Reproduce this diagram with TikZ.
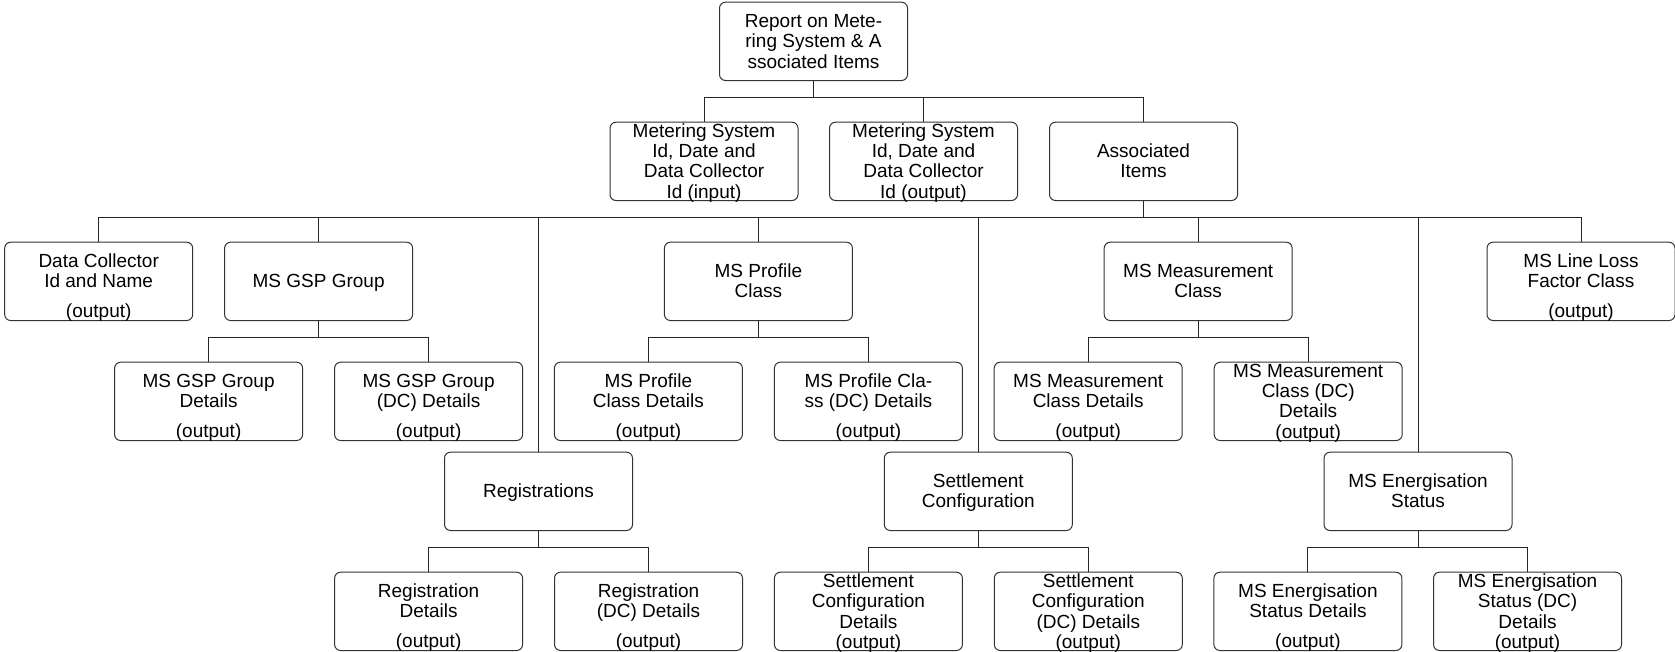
\documentclass[tikz,border=0pt]{standalone}
\usepackage{fontspec}
\setmainfont{Liberation Sans}
\newcommand\tl[1]{\raisebox{-6.75pt}[0pt][0pt]{\begin{tabular}{@{}c@{}}#1\end{tabular}}}
\newcommand\tlo[2]{\raisebox{-11.6pt}[0pt][0pt]{\begin{tabular}{@{}c@{}}#1\\[9.6pt]#2\end{tabular}}}
\tikzset{
  box/.style={draw=black!80, line width=1pt, rounded corners=6pt,
    minimum width=188pt, minimum height=78.3pt, inner sep=0pt,
    font=\fontsize{19pt}{20.3pt}\selectfont, anchor=north},
  link/.style={draw=black!85, line width=1pt},
}
\begin{document}
\begin{tikzpicture}[x=1pt,y=-1pt]
\useasboundingbox (0,0) rectangle (1675,651);
% level 0
\node[box] (top) at (813.5,1.7) {\tl{Report on Mete-\\ring System \& A\\ssociated Items}};
% level 1
\node[box] (in) at (704,121.7) {\tl{Metering System\\Id, Date and\\Data Collector\\Id (input)}};
\node[box] (out) at (923.5,121.7) {\tl{Metering System\\Id, Date and\\Data Collector\\Id (output)}};
\node[box] (assoc) at (1143.5,121.7) {\tl{Associated\\Items}};
% level 2
\node[box] (dc) at (98.7,241.7) {\tlo{Data Collector\\Id and Name}{(output)}};
\node[box] (gsp) at (318.6,241.7) {\tl{MS GSP Group}};
\node[box] (prof) at (758.4,241.7) {\tl{MS Profile\\Class}};
\node[box] (meas) at (1198.2,241.7) {\tl{MS Measurement\\Class}};
\node[box] (lll) at (1581,241.7) {\tlo{MS Line Loss\\Factor Class}{(output)}};
% level 3
\node[box] (gspd) at (208.6,361.7) {\tlo{MS GSP Group\\Details}{(output)}};
\node[box] (gspdc) at (428.6,361.7) {\tlo{MS GSP Group\\(DC) Details}{(output)}};
\node[box] (profd) at (648.4,361.7) {\tlo{MS Profile\\Class Details}{(output)}};
\node[box] (profdc) at (868.4,361.7) {\tlo{MS Profile Cla-\\ss (DC) Details}{(output)}};
\node[box] (measd) at (1088.2,361.7) {\tlo{MS Measurement\\Class Details}{(output)}};
\node[box] (measdc) at (1308.2,361.7) {\tl{MS Measurement\\Class (DC)\\Details\\(output)}};
% level 4
\node[box] (reg) at (538.5,451.7) {\tl{Registrations}};
\node[box] (sett) at (978.3,451.7) {\tl{Settlement\\Configuration}};
\node[box] (energ) at (1418,451.7) {\tl{MS Energisation\\Status}};
% level 5
\node[box] (regd) at (428.6,571.7) {\tlo{Registration\\Details}{(output)}};
\node[box] (regdc) at (648.5,571.7) {\tlo{Registration\\(DC) Details}{(output)}};
\node[box] (settd) at (868.4,571.7) {\tl{Settlement\\Configuration\\Details\\(output)}};
\node[box] (settdc) at (1088.3,571.7) {\tl{Settlement\\Configuration\\(DC) Details\\(output)}};
\node[box] (energd) at (1307.9,571.7) {\tlo{MS Energisation\\Status Details}{(output)}};
\node[box] (energdc) at (1527.5,571.7) {\tl{MS Energisation\\Status (DC)\\Details\\(output)}};
% connectors
\foreach \c in {in,out,assoc} \draw[link] (top.south) -- ++(0,16.7) -| (\c.north);
\foreach \c in {dc,gsp,reg,prof,sett,meas,energ,lll} \draw[link] (assoc.south) -- ++(0,16.7) -| (\c.north);
\foreach \c in {gspd,gspdc} \draw[link] (gsp.south) -- ++(0,16.7) -| (\c.north);
\foreach \c in {profd,profdc} \draw[link] (prof.south) -- ++(0,16.7) -| (\c.north);
\foreach \c in {measd,measdc} \draw[link] (meas.south) -- ++(0,16.7) -| (\c.north);
\foreach \c in {regd,regdc} \draw[link] (reg.south) -- ++(0,16.7) -| (\c.north);
\foreach \c in {settd,settdc} \draw[link] (sett.south) -- ++(0,16.7) -| (\c.north);
\foreach \c in {energd,energdc} \draw[link] (energ.south) -- ++(0,16.7) -| (\c.north);
\end{tikzpicture}
\end{document}
